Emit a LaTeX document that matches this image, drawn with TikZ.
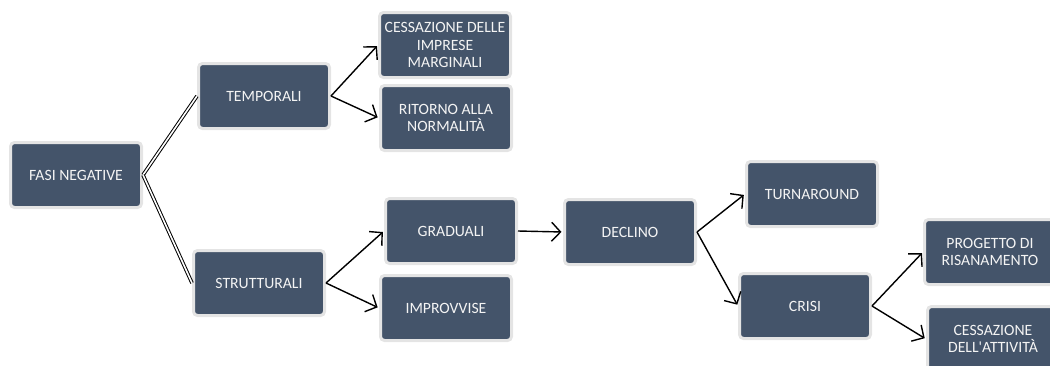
\documentclass[tikz,border=0pt]{standalone}
\usepackage{fontspec}
\setmainfont{Carlito}
\usetikzlibrary{arrows.meta}
\definecolor{boxfill}{HTML}{44546A}
\definecolor{boxrim}{HTML}{E4E4E4}
\definecolor{boxtext}{HTML}{F4F4F4}
\begin{document}
\begin{tikzpicture}[x=1pt,y=-1pt,
  phase/.style={rectangle, rounded corners=4pt, fill=boxfill, draw=boxrim,
    line width=3pt, minimum width=131pt, minimum height=65pt,
    text=boxtext, align=center, font=\fontsize{15.7}{17.5}\selectfont, inner sep=1pt},
  link/.style={black, line width=1.4pt,
    -{Straight Barb[length=9pt,width=19pt,line width=1.4pt]}, shorten >=1.5pt},
  twin/.style={black, line width=1pt, double=white, double distance=1.6pt}
]
\useasboundingbox (0,0) rectangle (1050,365);

\node[phase] (fasi)  at (76,175)  {FASI NEGATIVE};
\node[phase] (temp)  at (264,96)  {TEMPORALI};
\node[phase] (cess1) at (445,45)  {CESSAZIONE DELLE\\IMPRESE\\MARGINALI};
\node[phase] (rit)   at (446,118) {RITORNO ALLA\\NORMALITÀ};
\node[phase] (strut) at (259,283) {STRUTTURALI};
\node[phase] (grad)  at (451,231) {GRADUALI};
\node[phase] (impr)  at (446,308) {IMPROVVISE};
\node[phase] (decl)  at (630,232) {DECLINO};
\node[phase] (turn)  at (812,194) {TURNAROUND};
\node[phase] (crisi) at (805,306) {CRISI};
\node[phase] (prog)  at (990,252) {PROGETTO DI\\RISANAMENTO};
\node[phase] (cess2) at (993,339) {CESSAZIONE\\DELL\textquotesingle ATTIVITÀ};

% double connectors from the root
\draw[twin] (fasi.east) -- (temp.west);
\draw[twin] (fasi.east) -- (strut.west);

% single arrows
\draw[link] (temp.east) -- (cess1.west);
\draw[link] (temp.east) -- (rit.west);
\draw[link] (strut.east) -- (grad.west);
\draw[link] (strut.east) -- (impr.west);
\draw[link] (grad.east) -- (decl.west);
\draw[link] (decl.east) -- (turn.west);
\draw[link] (decl.east) -- (crisi.west);
\draw[link] (crisi.east) -- (prog.west);
\draw[link] (crisi.east) -- (cess2.west);
\end{tikzpicture}
\end{document}
